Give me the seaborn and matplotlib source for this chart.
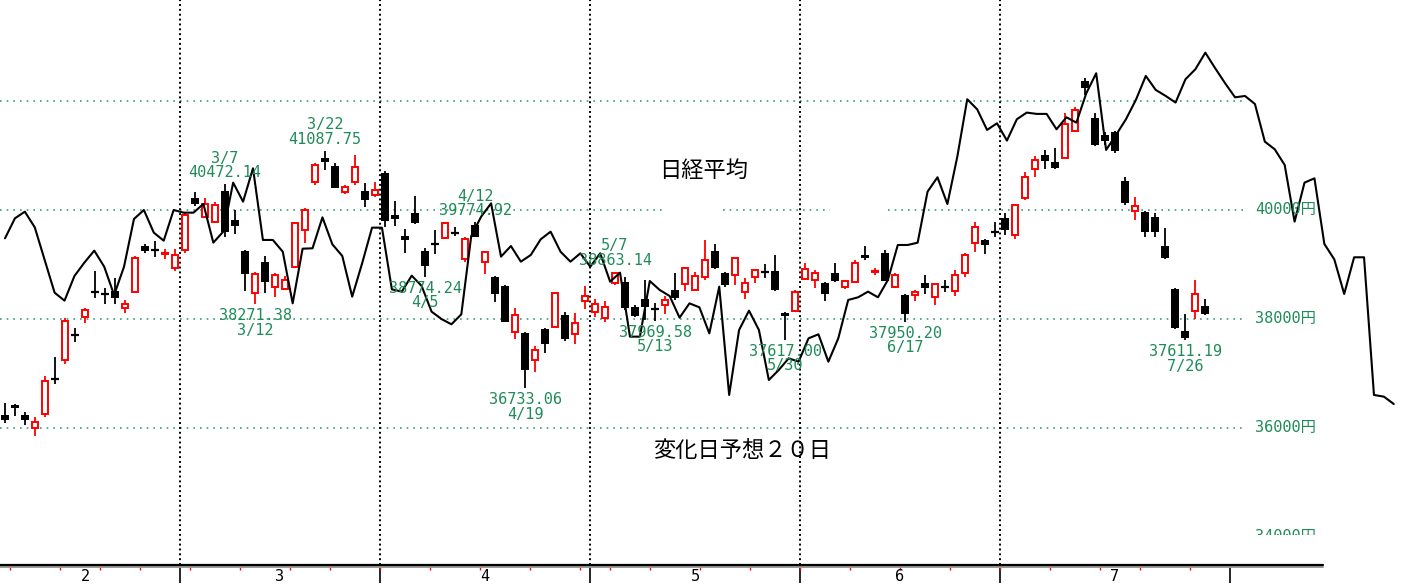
import numpy as np
import pandas as pd
import matplotlib
matplotlib.use('Agg')
import matplotlib.pyplot as plt
import matplotlib.transforms as mtransforms
from matplotlib.patches import Rectangle
import seaborn as sns

# daily candles, 2/2 .. 7/30 (one entry per trading day)
opens = [36239, 36422, 36239, 35994, 36257, 36900, 37248, 37720, 38043, 38505,
         38475, 38514, 38196, 38502, 39339, 39270, 39200, 38942, 39266, 40214,
         39878, 39786, 40355, 39817, 39248, 38471, 39052, 38593, 38550, 38960,
         39633, 40520, 40950, 40807, 40336, 40520, 40349, 40275, 40673, 39908,
         39523, 39939, 39248, 39395, 39480, 39595, 39095, 39725, 39052, 38777,
         38612, 37755, 37737, 37248, 37810, 37859, 38073, 37725, 38330, 38135,
         38012, 38654, 38685, 38226, 38367, 38200, 38257, 38532, 38642, 38532,
         38765, 39254, 38850, 38807, 38502, 38765, 38875, 38881, 38116, 38153,
         38728, 38716, 38667, 38850, 38593, 38685, 39174, 38860, 39205, 38593,
         38439, 38439, 38654, 38409, 38600, 38513, 38837, 39388, 39449, 39610,
         39847, 39541, 40226, 40753, 41010, 40875, 40949, 41457, 42375, 41683,
         41377, 41438, 40539, 39982, 39969, 39878, 39339, 38543, 37784, 38152,
         38237]
highs = [36453, 36440, 36300, 36196, 36954, 37297, 38012, 37829, 38196, 38881,
         38563, 38746, 38349, 39156, 39376, 39437, 39291, 39278, 39951, 40324,
         40226, 40153, 40472, 40000, 39266, 38869, 39156, 38850, 38789, 39786,
         40031, 40856, 41088, 40856, 40459, 41009, 40489, 40520, 40716, 40165,
         39645, 40257, 39297, 39633, 39786, 39694, 39498, 39775, 39254, 38790,
         38620, 38208, 37768, 37505, 37829, 38480, 38135, 38104, 38606, 38361,
         38336, 38863, 38777, 38257, 38716, 38287, 38422, 38838, 38948, 38868,
         39450, 39370, 38868, 39131, 38746, 38911, 39009, 39174, 38135, 38532,
         39034, 38899, 38680, 39034, 38716, 39083, 39339, 38930, 39266, 38838,
         38450, 38531, 38807, 38654, 38715, 38898, 39217, 39786, 39460, 39786,
         39951, 40110, 40704, 40991, 41102, 41132, 41775, 41897, 42426, 41775,
         41438, 41457, 40612, 40245, 39980, 39939, 39663, 38562, 38090, 38715,
         38360]
lows = [36086, 36220, 36055, 35853, 36208, 36807, 37174, 37584, 37933, 38379,
        38275, 38275, 38104, 38483, 39205, 39132, 39101, 38881, 39217, 40073,
        39847, 39768, 39511, 39560, 38520, 38271, 38471, 38398, 38532, 38930,
        39388, 40459, 40734, 40398, 40294, 40459, 40061, 40245, 39694, 39713,
        39217, 39740, 38774, 39193, 39462, 39523, 39052, 39498, 38826, 38318,
        37940, 37627, 36733, 37034, 37382, 37850, 37602, 37541, 38184, 38031,
        37951, 38624, 38165, 38043, 37982, 37970, 38092, 38349, 38514, 38520,
        38716, 38920, 38593, 38624, 38361, 38667, 38746, 38520, 37617, 38135,
        38716, 38563, 38330, 38685, 38544, 38670, 39083, 38807, 38690, 38563,
        37950, 38329, 38458, 38256, 38501, 38421, 38764, 39235, 39192, 39510,
        39541, 39468, 40184, 40612, 40747, 40755, 40940, 41438, 42111, 41180,
        41193, 41040, 40092, 39816, 39510, 39510, 39094, 37809, 37611, 37992,
        38072]
closes = [36147, 36361, 36147, 36116, 36862, 36890, 37963, 37710, 38165, 38495,
          38465, 38391, 38269, 39113, 39248, 39260, 39210, 39174, 39908, 40110,
          40110, 40092, 39602, 39706, 38820, 38820, 38685, 38807, 38716, 39755,
          40000, 40826, 40888, 40398, 40416, 40783, 40183, 40367, 39804, 39829,
          39450, 39755, 38972, 39380, 39768, 39585, 39462, 39511, 39235, 38458,
          37951, 38073, 37064, 37431, 37535, 38471, 37627, 37933, 38422, 38275,
          38226, 38838, 38196, 38055, 38226, 38190, 38349, 38379, 38930, 38789,
          39083, 38930, 38624, 39113, 38654, 38899, 38860, 38532, 38055, 38502,
          38917, 38838, 38459, 38697, 38697, 39034, 39113, 38875, 38697, 38807,
          38090, 38488, 38562, 38641, 38585, 38807, 39174, 39682, 39357, 39595,
          39633, 40092, 40600, 40918, 40906, 40765, 41579, 41836, 42234, 41193,
          41273, 41089, 40122, 40073, 39602, 39602, 39113, 37840, 37643, 38458,
          38090]

# 変化日予想20日 line, one point per day, runs past the last candle
forecast = [39480, 39847, 39969, 39682, 39083, 38483, 38336, 38789, 39034, 39254,
            38960, 38440, 38960, 39835, 40000, 39584, 39437, 40000, 39951, 39951,
            40110, 39401, 39602, 40502, 40153, 40765, 39450, 39450, 39235, 38287,
            39290, 39297, 39865, 39370, 39156, 38410, 39021, 39676, 39676, 38544,
            38502, 38795, 38606, 38135, 38000, 37902, 38086, 39523, 39878, 40122,
            39144, 39339, 39052, 39174, 39462, 39602, 39235, 39052, 39205, 38960,
            39205, 38685, 38850, 37676, 37676, 38697, 38532, 38422, 38024, 38287,
            38214, 37737, 38593, 36606, 37798, 38153, 37798, 36881, 37064, 37278,
            37217, 37645, 37719, 37217, 37645, 38349, 38398, 38502, 38398, 38716,
            39358, 39358, 39400, 40337, 40600, 40110, 40979, 42032, 41848, 41469,
            41591, 41273, 41665, 41787, 41763, 41763, 41481, 41701, 41603, 42142,
            42509, 41102, 41377, 41665, 42020, 42460, 42203, 42093, 41971, 42399,
            42583, 42887, 42599, 42324, 42067, 42092, 41945, 41254, 41113, 40826,
            39786, 40502, 40581, 39376, 39095, 38459, 39132, 39132, 36606, 36575,
            36440]

# marked highs / lows
mark_idx = [22, 25, 32, 42, 47, 52, 61, 65, 78, 90, 118]
mark_date = ['3/7', '3/12', '3/22', '4/5', '4/12', '4/19', '5/7', '5/13', '5/30', '6/17', '7/26']
mark_price = ['40472.14', '38271.38', '41087.75', '38774.24', '39774.92', '36733.06',
              '38863.14', '37969.58', '37617.00', '37950.20', '37611.19']
mark_kind = ['high', 'low', 'high', 'low', 'high', 'low', 'high', 'low', 'low', 'low', 'low']

month_names = ['2', '3', '4', '5', '6', '7']
month_edges = [-1.5, 17.5, 37.5, 58.5, 79.5, 99.5, 122.5]
week_starts = [1, 6, 10, 14, 19, 24, 29, 33, 38, 43, 48, 53, 58, 61, 65, 70, 75,
               80, 85, 90, 95, 100, 105, 110, 114, 119]
grid_levels = [36000, 38000, 40000, 42000]
price_levels = [34000, 36000, 38000, 40000]
price_labels = ['34000円', '36000円', '38000円', '40000円']

GREEN = '#1f8c58'
GRID_GREEN = '#3a9f7c'

sns.set_style('white')
plt.rcParams['font.family'] = ['DejaVu Sans Mono', 'Noto Sans CJK JP']

fig = plt.figure(figsize=(14.25, 5.87), dpi=100)
ax = fig.add_axes([0, 22 / 587, 1, 565 / 587])
ax.set_xlim(-0.5, 142)
ax.set_ylim(33486, 43853)
for s in ax.spines.values():
    s.set_visible(False)
ax.set_xticks([])
ax.set_yticks([])

# price grid (the 40000 line has two breaks in the original)
for lv in grid_levels:
    if lv == 40000:
        segs = [(-0.5, 66), (71.8, 82.5), (88.3, 123.8)]
    else:
        segs = [(-0.5, 123.8)]
    for a, b in segs:
        ax.hlines(lv, a, b, colors=GRID_GREEN, linestyles=(0, (1, 3)), lw=1.2, zorder=1)

for lv, lab in zip(price_levels, price_labels):
    ax.text(125, lv, lab, color=GREEN, fontsize=11, va='center', ha='left', zorder=5)
# bottom label is cut off in the original
ax.add_patch(Rectangle((124, 33486), 10, 34034 - 33486, facecolor='white',
                       edgecolor='none', zorder=6))

# month separators
ax.vlines(month_edges[1:-1], 33486, 43853, colors='black',
          linestyles=(0, (1, 1.5)), lw=1.4, zorder=1)

# candles
df = pd.DataFrame(dict(open=opens, high=highs, low=lows, close=closes))
df['day'] = np.arange(len(df))
up = (df['close'] >= df['open']).values
cols = np.where(up, 'red', 'black')
body_lo = df[['open', 'close']].min(axis=1)
body_h = (df['close'] - df['open']).abs()

ax.vlines(df['day'], df['low'], df['high'], colors=cols, lw=1.3, zorder=2)
ax.bar(df.loc[up, 'day'], body_h[up], bottom=body_lo[up], width=0.62,
       facecolor='white', edgecolor='red', linewidth=1.4, zorder=3)
ax.bar(df.loc[~up, 'day'], body_h[~up], bottom=body_lo[~up], width=0.8,
       color='black', linewidth=0, zorder=3)
doji = (body_h < 30).values
ax.hlines(df.loc[doji, 'close'], df.loc[doji, 'day'] - 0.4, df.loc[doji, 'day'] + 0.4,
          colors=cols[doji], lw=1.6, zorder=3)

# forecast line
line_x = np.arange(len(forecast)) * 0.992
sns.lineplot(x=line_x, y=forecast, color='black', linewidth=1.5, ax=ax, zorder=4)

# high / low annotations
for i, d, p, k in zip(mark_idx, mark_date, mark_price, mark_kind):
    if k == 'high':
        ax.annotate(f'{d}\n{p}', xy=(i, float(p)), xytext=(0, 3), textcoords='offset points',
                    ha='center', va='bottom', color=GREEN, fontsize=11,
                    linespacing=0.95, zorder=5)
    else:
        ax.annotate(f'{p}\n{d}', xy=(i, float(p)), xytext=(0, -3), textcoords='offset points',
                    ha='center', va='top', color=GREEN, fontsize=11,
                    linespacing=0.95, zorder=5)

ax.text(69.9, 40734, '日経平均', family=['Noto Sans CJK JP'], fontsize=16,
        ha='center', va='center', color='black', zorder=5)
ax.text(73.7, 35596, '変化日予想２０日', family=['Noto Sans CJK JP'], fontsize=16,
        ha='center', va='center', color='black', zorder=5)

# date axis under the plot
trans = mtransforms.blended_transform_factory(ax.transData, ax.transAxes)
ax.plot([-0.5, 131.8], [0, 0], color='black', lw=1.6, transform=trans, clip_on=False, zorder=6)
ax.plot([-0.5, 131.8], [-0.004, -0.004], color='#9a9a9a', lw=1.4, transform=trans,
        clip_on=False, zorder=5)
ax.vlines(month_edges[1:], -0.031, 0, colors='black', lw=1.2, transform=trans, clip_on=False)
ax.vlines(np.array(week_starts) - 0.5, -0.008, 0, colors='red', lw=1.0, transform=trans,
          clip_on=False)
for m, a, b in zip(month_names, month_edges[:-1], month_edges[1:]):
    ax.text((a + b) / 2, -0.021, m, transform=trans, ha='center', va='center',
            fontsize=11, color='black')

fig.savefig('out.png', dpi=100, facecolor='white')
